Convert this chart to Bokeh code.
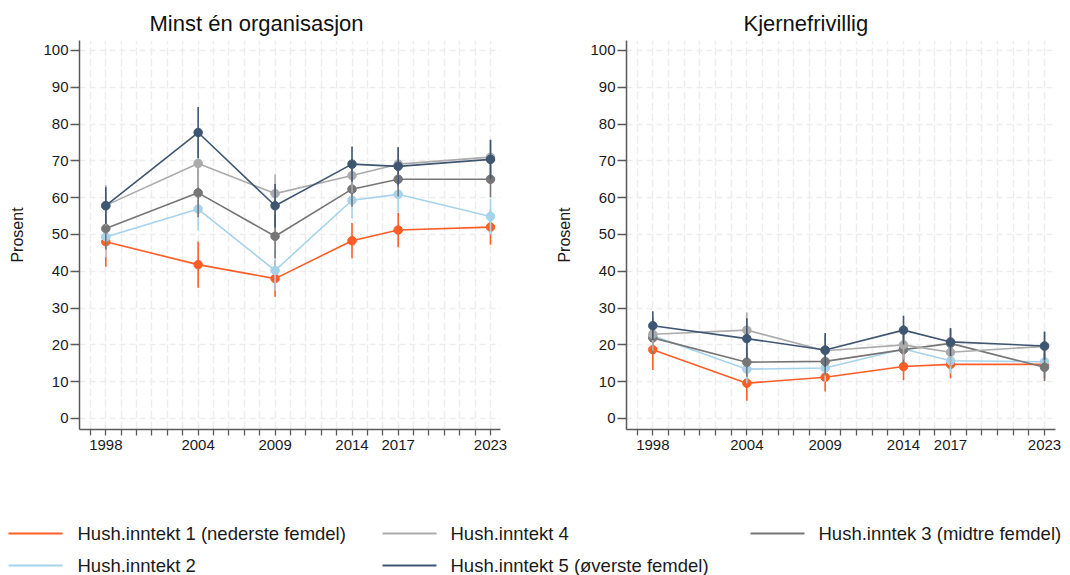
from bokeh.plotting import figure
from bokeh.models import Range1d, FixedTicker
from bokeh.layouts import column, row
from bokeh.core.properties import value
from bokeh.embed import file_html
from bokeh.resources import INLINE

FONT = "Liberation Sans"

years = [1998, 2004, 2009, 2014, 2017, 2023]
all_ticks = list(range(1997, 2024))

series_names = [
    "Hush.inntekt 1 (nederste femdel)",
    "Hush.inntekt 2",
    "Hush.inntek 3 (midtre femdel)",
    "Hush.inntekt 4",
    "Hush.inntekt 5 (øverste femdel)",
]
colors = ["#fe5d26", "#a6d3ea", "#767676", "#ababab", "#3e5671"]

# Panel 1: Minst én organisasjon
org_h1 = [48.0, 41.8, 38.0, 48.3, 51.2, 52.0]
org_h2 = [49.3, 56.9, 40.2, 59.3, 60.9, 54.9]
org_h3 = [51.6, 61.3, 49.5, 62.3, 65.0, 65.0]
org_h4 = [57.9, 69.3, 61.1, 66.0, 69.1, 71.0]
org_h5 = [57.8, 77.7, 57.8, 69.1, 68.5, 70.4]
org_ci_h1 = [6.8, 6.3, 4.9, 4.8, 4.7, 4.8]
org_ci_h2 = [5.5, 5.9, 5.5, 5.0, 4.9, 4.9]
org_ci_h3 = [5.7, 6.6, 6.0, 4.8, 4.7, 4.9]
org_ci_h4 = [5.5, 6.5, 5.2, 4.7, 4.6, 4.6]
org_ci_h5 = [5.0, 6.9, 5.9, 4.8, 5.2, 5.3]

# Panel 2: Kjernefrivillig
kj_h1 = [18.7, 9.6, 11.2, 14.1, 14.7, 14.7]
kj_h2 = [22.5, 13.4, 13.7, 18.9, 15.7, 15.4]
kj_h3 = [21.9, 15.3, 15.5, 18.7, 20.4, 13.9]
kj_h4 = [22.9, 24.0, 18.4, 20.0, 18.0, 19.6]
kj_h5 = [25.2, 21.7, 18.6, 24.0, 20.8, 19.7]
kj_ci_h1 = [5.5, 4.8, 3.9, 3.7, 3.8, 3.8]
kj_ci_h2 = [4.5, 3.8, 3.7, 3.8, 3.5, 3.8]
kj_ci_h3 = [4.3, 4.0, 3.8, 3.9, 3.8, 3.7]
kj_ci_h4 = [4.5, 4.8, 4.2, 4.0, 3.8, 3.9]
kj_ci_h5 = [3.9, 5.5, 4.6, 3.9, 3.8, 3.9]

org_vals = [org_h1, org_h2, org_h3, org_h4, org_h5]
org_cis = [org_ci_h1, org_ci_h2, org_ci_h3, org_ci_h4, org_ci_h5]
kj_vals = [kj_h1, kj_h2, kj_h3, kj_h4, kj_h5]
kj_cis = [kj_ci_h1, kj_ci_h2, kj_ci_h3, kj_ci_h4, kj_ci_h5]


def make_panel(title, vals, cis, width, mbl, mbr, xr, title_offset):
    p = figure(width=width, height=463,
               x_range=Range1d(*xr), y_range=Range1d(-3.0, 102.7),
               output_backend="svg", toolbar_location=None,
               min_border_left=mbl, min_border_right=mbr,
               min_border_top=40, min_border_bottom=34)
    p.outline_line_color = None
    p.background_fill_color = "white"
    p.border_fill_color = "white"

    p.title.text = title
    p.title.align = "left"
    p.title.offset = title_offset
    p.title.text_font = FONT
    p.title.text_font_size = "22px"
    p.title.text_font_style = "normal"
    p.title.text_color = "#111111"
    p.title.standoff = 9

    p.xaxis.ticker = FixedTicker(ticks=all_ticks)
    p.xaxis.major_label_overrides = {t: "" for t in all_ticks if t not in years}
    p.yaxis.ticker = FixedTicker(ticks=list(range(0, 101, 10)))
    for ax in (p.xaxis, p.yaxis):
        ax.axis_line_color = "#5a5a5a"
        ax.axis_line_width = 1.5
        ax.major_tick_line_color = "#5a5a5a"
        ax.major_tick_line_width = 1.3
        ax.major_tick_in = 0
        ax.minor_tick_line_color = None
        ax.major_label_text_font = FONT
        ax.major_label_text_font_size = "15px"
        ax.major_label_text_color = "#1a1a1a"
    p.xaxis.major_tick_out = 6
    p.xaxis.major_label_standoff = 4
    p.yaxis.major_tick_out = 9
    p.yaxis.major_label_standoff = 2
    p.yaxis.axis_label = "Prosent"
    p.yaxis.axis_label_text_font = FONT
    p.yaxis.axis_label_text_font_size = "16px"
    p.yaxis.axis_label_text_font_style = "normal"
    p.yaxis.axis_label_text_color = "#1a1a1a"
    p.yaxis.axis_label_standoff = 14

    p.xgrid.grid_line_color = "#ededed"
    p.xgrid.grid_line_width = 1.5
    p.xgrid.grid_line_dash = "8 3"
    p.ygrid.grid_line_color = "#ededed"
    p.ygrid.grid_line_width = 1.5
    p.ygrid.grid_line_dash = "6 4"

    for v, c, col in zip(vals, cis, colors):
        lo = [a - b for a, b in zip(v, c)]
        hi = [a + b for a, b in zip(v, c)]
        p.segment(x0=years, y0=lo, x1=years, y1=hi, line_color=col, line_width=1.6)
        p.line(years, v, line_color=col, line_width=1.6)
        p.scatter(years, v, marker="circle", size=8.5, fill_color=col, line_color=col)
    return p


p1 = make_panel("Minst én organisasjon", org_vals, org_cis, 540, 79, 40,
                (1996.29, 2023.65), 70)
p2 = make_panel("Kjernefrivillig", kj_vals, kj_cis, 530, 86, 15,
                (1996.32, 2023.7), 117)

# Legend panel (pixel-like coordinates)
LH = 112
leg = figure(width=1070, height=LH, x_range=Range1d(0, 1070), y_range=Range1d(LH, 0),
             x_axis_type=None, y_axis_type=None, output_backend="svg",
             toolbar_location=None, min_border=0)
leg.outline_line_color = None
leg.grid.visible = False

slot_line_x0 = [8, 8, 750, 382, 382]
slot_text_x = [77, 77, 818, 450, 450]
slot_y = [70, 102, 70, 70, 102]
for name, col, lx, tx, yy in zip(series_names, colors, slot_line_x0, slot_text_x, slot_y):
    leg.segment(x0=[lx], y0=[yy], x1=[lx + 54], y1=[yy], line_color=col, line_width=2.2)
    leg.text(x=[tx], y=[yy], text=[name], text_font=value(FONT), text_font_size="18.5px",
             text_baseline="middle", text_align="left", text_color="#1a1a1a")

layout = column(row(p1, p2), leg)
open("out.html", "w").write(file_html(layout, INLINE))
